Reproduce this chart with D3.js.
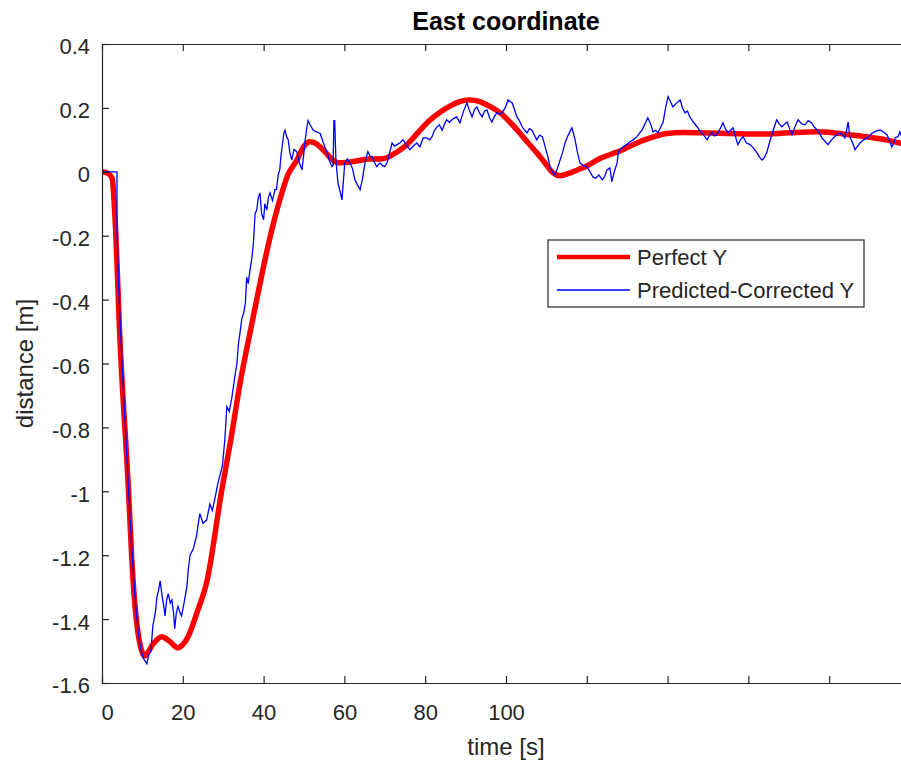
<!DOCTYPE html>
<html>
<head>
<meta charset="utf-8">
<script src="https://cdn.jsdelivr.net/npm/d3@7"></script>
<style>
  html, body { margin: 0; padding: 0; background: #ffffff; }
  svg { display: block; font-family: "Liberation Sans", Arial, Helvetica, sans-serif; }
</style>
</head>
<body>
<svg id="chart" width="901" height="767"></svg>
<script>
// Reference trajectory (thick red) — time [s] and east distance [m]
const perfectTime = [0,1.5,2.5,3.2,4.5,6.4,7.7,9,10.6,12.5,14.8,16.8,18.8,20,21.3,23.5,26,29.6,32,34.2,36.7,39.1,41.5,44,46,48.3,50,51.5,53,55,57,58.5,61,64,66,68.8,70.5,73,75.5,78.7,81,83.5,86,88.5,91,93.5,96,98.5,101,103.5,105.5,107.6,109.5,111.6,113.4,115.5,117.5,120,123,126,128.2,131.4,135,139.8,144,148,155,163,170,177,181,185,190,194,197.5,200];
const perfectY = [0,-0.005,-0.02,-0.14,-0.54,-0.96,-1.28,-1.45,-1.515,-1.48,-1.455,-1.47,-1.49,-1.48,-1.455,-1.38,-1.28,-1.0,-0.83,-0.66,-0.5,-0.35,-0.21,-0.088,-0.01,0.038,0.08,0.094,0.088,0.065,0.038,0.028,0.03,0.036,0.04,0.04,0.044,0.062,0.085,0.13,0.16,0.185,0.205,0.22,0.225,0.22,0.205,0.185,0.155,0.12,0.09,0.06,0.03,-0.003,-0.012,-0.005,0.005,0.018,0.04,0.055,0.065,0.085,0.103,0.12,0.123,0.122,0.12,0.118,0.122,0.125,0.122,0.116,0.108,0.1,0.09,0.083];

// Filter output (thin blue) — time [s] and east distance [m]
const correctedTime = [0,3.7,3.7,4.2,4.6,5.2,5.8,6.4,7,7.5,8.1,8.8,9.4,10.1,10.6,11.1,11.6,12.1,12.6,13.2,13.6,14,14.4,14.9,15.3,15.6,16,16.4,16.9,17.3,17.7,18,18.4,18.8,19.3,19.7,20.3,21,21.4,21.8,22.6,23.4,24.2,25,25.9,26.7,27.3,28,28.6,29.2,29.8,30.4,30.9,31.5,32.1,32.9,33.4,33.8,34.2,34.6,35.1,35.5,35.8,36.2,36.6,37.1,37.5,37.9,38.3,38.7,39.1,39.5,40,40.3,40.8,41.2,41.6,42.2,42.8,43.2,43.6,44,44.3,44.6,45,45.3,45.7,46.1,46.5,47,47.5,48.2,48.8,49.5,49.9,50.2,50.6,51,51.6,52.3,53.1,54,54.8,55.7,56.3,56.9,57.2,57.4,57.6,57.9,58.4,58.9,59.4,59.8,60.1,60.7,61.4,62,62.6,63.2,63.9,64.5,65.1,65.5,65.8,66.3,66.8,67.4,68,68.8,69.4,70,70.6,71.2,71.8,72.4,73,73.7,74.5,75.3,76.2,77,77.9,78.7,79.5,80.4,81.1,81.7,82.3,82.9,83.5,84.2,84.8,85.3,86,86.8,87.8,88.6,89.5,90.3,91,91.6,92.2,92.8,93.4,94.1,94.7,95.3,95.9,96.5,97.2,97.8,98.4,99,99.8,100.5,101,101.5,102.1,102.7,103.3,104,104.6,105.2,105.8,106.4,107,107.6,108.3,109,109.7,110.3,110.9,111.5,112.1,112.7,113.4,114,114.6,115.2,115.8,116.3,116.7,117.1,117.7,118.3,119.1,120,120.8,121.5,122.2,123,123.8,124.4,125,125.7,126.2,126.8,127.5,127.8,128.2,129,129.8,130.7,131.5,132.4,133,133.7,134.4,135.1,135.8,136.4,137,137.6,138.3,138.9,139.5,140.1,140.7,141.3,142.2,143.1,143.7,144.3,144.9,145.5,146.4,147.3,147.9,148.5,149.2,149.8,150.4,151,151.6,152.2,153,153.7,154.3,155,155.6,156.2,156.8,157.4,158,158.7,159.5,160.4,161.2,162.1,162.8,163.4,164,164.6,165.2,165.8,166.4,167,167.6,168.3,169,169.6,170.2,170.8,171.5,172.3,173.2,174,174.8,175.7,176.3,177,177.6,178.2,179,179.7,180.3,181,181.8,182.7,183.3,183.9,184.3,184.7,185.1,185.8,186.4,187,187.6,188.5,189.4,190.1,190.8,191.7,192.6,193.4,194.3,195,195.5,196,196.3,197,197.5,198.2,199,200];
const correctedY = [0,0,-0.18,-0.38,-0.5,-0.66,-0.8,-0.95,-1.1,-1.2,-1.32,-1.42,-1.48,-1.52,-1.53,-1.54,-1.51,-1.5,-1.42,-1.38,-1.33,-1.31,-1.28,-1.33,-1.36,-1.39,-1.34,-1.32,-1.35,-1.34,-1.38,-1.43,-1.38,-1.36,-1.38,-1.39,-1.35,-1.3,-1.24,-1.2,-1.18,-1.14,-1.07,-1.1,-1.09,-1.04,-1.06,-1.02,-0.98,-0.95,-0.92,-0.84,-0.735,-0.75,-0.71,-0.64,-0.6,-0.535,-0.5,-0.46,-0.44,-0.41,-0.33,-0.35,-0.31,-0.27,-0.22,-0.13,-0.12,-0.08,-0.066,-0.13,-0.15,-0.1,-0.12,-0.08,-0.066,-0.09,-0.056,-0.056,-0.01,0.006,0.05,0.08,0.12,0.13,0.11,0.1,0.06,0.037,0.07,0.063,0.03,0.006,0.05,0.09,0.13,0.16,0.145,0.13,0.125,0.12,0.09,0.06,0.035,0.016,0.02,0.16,0.16,0.037,-0.035,-0.06,-0.088,-0.02,0.028,0.04,0.028,0.01,-0.025,-0.04,-0.056,-0.02,0.028,0.05,0.063,0.05,0.047,0.03,0.016,0.028,0.02,0.016,0.03,0.06,0.09,0.08,0.085,0.09,0.1,0.085,0.069,0.08,0.09,0.078,0.106,0.106,0.1,0.11,0.13,0.14,0.147,0.13,0.15,0.163,0.155,0.165,0.172,0.153,0.19,0.216,0.19,0.172,0.195,0.203,0.185,0.172,0.19,0.194,0.17,0.156,0.175,0.185,0.18,0.185,0.2,0.225,0.22,0.216,0.195,0.172,0.16,0.141,0.13,0.122,0.135,0.131,0.115,0.1,0.115,0.11,0.078,0.05,0.016,0,-0.01,0.01,0.037,0.06,0.09,0.11,0.125,0.138,0.12,0.1,0.06,0.028,0.02,0.016,0,-0.016,-0.02,-0.01,-0.025,-0.015,0.006,0.012,-0.031,0,0.028,0.06,0.069,0.078,0.085,0.094,0.1,0.11,0.12,0.131,0.15,0.169,0.15,0.125,0.13,0.122,0.14,0.156,0.2,0.235,0.22,0.203,0.215,0.225,0.2,0.185,0.19,0.172,0.155,0.141,0.13,0.122,0.11,0.1,0.115,0.122,0.112,0.116,0.135,0.153,0.135,0.122,0.13,0.138,0.11,0.085,0.1,0.11,0.09,0.085,0.075,0.06,0.045,0.037,0.045,0.063,0.09,0.116,0.14,0.163,0.15,0.141,0.15,0.156,0.135,0.116,0.14,0.163,0.15,0.147,0.16,0.153,0.14,0.131,0.12,0.106,0.095,0.085,0.095,0.106,0.115,0.122,0.115,0.106,0.13,0.156,0.11,0.09,0.069,0.08,0.09,0.1,0.106,0.115,0.122,0.128,0.131,0.125,0.116,0.095,0.078,0.09,0.106,0.11,0.125,0.1,0.11,0.12];

// Axis ticks
const xTicks = [0,20,40,60,80,100,120,140,160,180,200];
const xTickLabels = ["0","20","40","60","80","100","","","","",""];
const yTicks = [0.4,0.2,0,-0.2,-0.4,-0.6,-0.8,-1,-1.2,-1.4,-1.6];
const yTickLabels = ["0.4","0.2","0","-0.2","-0.4","-0.6","-0.8","-1","-1.2","-1.4","-1.6"];

const seriesNames = ["Perfect Y", "Predicted-Corrected Y"];

const textColor = "#262626";
const box = { left: 102, right: 910, top: 44, bottom: 683 };

const svg = d3.select("#chart");

const x = d3.scaleLinear().domain([0, 200]).range([box.left, box.right]);
const y = d3.scaleLinear().domain([-1.6, 0.4]).range([box.bottom, box.top]);

svg.append("defs").append("clipPath").attr("id", "plot-clip")
  .append("rect")
  .attr("x", box.left).attr("y", box.top)
  .attr("width", box.right - box.left).attr("height", box.bottom - box.top);

// Data lines
const perfect = perfectTime.map((t, i) => [t, perfectY[i]]);
const corrected = correctedTime.map((t, i) => [t, correctedY[i]]);

const plot = svg.append("g").attr("clip-path", "url(#plot-clip)");

plot.append("path")
  .datum(perfect)
  .attr("fill", "none")
  .attr("stroke", "#ff0000")
  .attr("stroke-width", 5.5)
  .attr("stroke-linejoin", "round")
  .attr("d", d3.line().x(d => x(d[0])).y(d => y(d[1])).curve(d3.curveMonotoneX));

plot.append("path")
  .datum(corrected)
  .attr("fill", "none")
  .attr("stroke", "#0000ff")
  .attr("stroke-width", 1.3)
  .attr("d", d3.line().x(d => x(d[0])).y(d => y(d[1])));

// Axes: ticks point inward, box drawn on all sides
const tickLen = 7;
const tickFont = 22;

const xAxisBottom = d3.axisBottom(x).tickValues(xTicks).tickSizeInner(-tickLen).tickSizeOuter(0)
  .tickFormat((d, i) => xTickLabels[i]).tickPadding(tickLen + 14);
const gxb = svg.append("g").attr("transform", `translate(0,${box.bottom})`).call(xAxisBottom);

const xAxisTop = d3.axisTop(x).tickValues(xTicks).tickSizeInner(-tickLen).tickSizeOuter(0).tickFormat("");
const gxt = svg.append("g").attr("transform", `translate(0,${box.top})`).call(xAxisTop);

const yAxisLeft = d3.axisLeft(y).tickValues(yTicks).tickSizeInner(-tickLen).tickSizeOuter(0)
  .tickFormat((d, i) => yTickLabels[i]).tickPadding(tickLen + 5);
const gyl = svg.append("g").attr("transform", `translate(${box.left},0)`).call(yAxisLeft);

const yAxisRight = d3.axisRight(y).tickValues(yTicks).tickSizeInner(-tickLen).tickSizeOuter(0).tickFormat("");
const gyr = svg.append("g").attr("transform", `translate(${box.right},0)`).call(yAxisRight);

[gxb, gxt, gyl, gyr].forEach(g => {
  g.select(".domain").attr("stroke", textColor).attr("stroke-width", 1.2);
  g.selectAll(".tick line").attr("stroke", textColor).attr("stroke-width", 1.2);
  g.selectAll(".tick text")
    .attr("fill", textColor)
    .attr("font-size", tickFont)
    .attr("font-family", "Liberation Sans, Arial, sans-serif");
});
gyl.selectAll(".tick text").attr("dy", "0.45em");
// first x label sits just right of the corner
gxb.selectAll(".tick text").filter(d => d === 0).attr("dx", 5);

// Titles
svg.append("text")
  .attr("x", (box.left + box.right) / 2).attr("y", 30)
  .attr("text-anchor", "middle")
  .attr("font-size", 25).attr("font-weight", "bold")
  .attr("fill", "#000000")
  .text("East coordinate");

svg.append("text")
  .attr("x", (box.left + box.right) / 2).attr("y", 755)
  .attr("text-anchor", "middle")
  .attr("font-size", 24)
  .attr("fill", textColor)
  .text("time [s]");

svg.append("text")
  .attr("transform", `translate(33,${(box.top + box.bottom) / 2}) rotate(-90)`)
  .attr("text-anchor", "middle")
  .attr("font-size", 24)
  .attr("fill", textColor)
  .text("distance [m]");

// Legend
const legend = svg.append("g").attr("transform", "translate(548,240)");
legend.append("rect")
  .attr("width", 316).attr("height", 67)
  .attr("fill", "#ffffff")
  .attr("stroke", textColor).attr("stroke-width", 1.2);

const legendStyles = [
  { color: "#ff0000", width: 4.5 },
  { color: "#0000ff", width: 1.3 }
];
seriesNames.forEach((name, i) => {
  const yy = 17 + i * 33;
  legend.append("line")
    .attr("x1", 9).attr("x2", 82).attr("y1", yy).attr("y2", yy)
    .attr("stroke", legendStyles[i].color).attr("stroke-width", legendStyles[i].width);
  legend.append("text")
    .attr("x", 89).attr("y", yy).attr("dy", "0.36em")
    .attr("font-size", 22)
    .attr("fill", textColor)
    .text(name);
});
</script>
</body>
</html>
